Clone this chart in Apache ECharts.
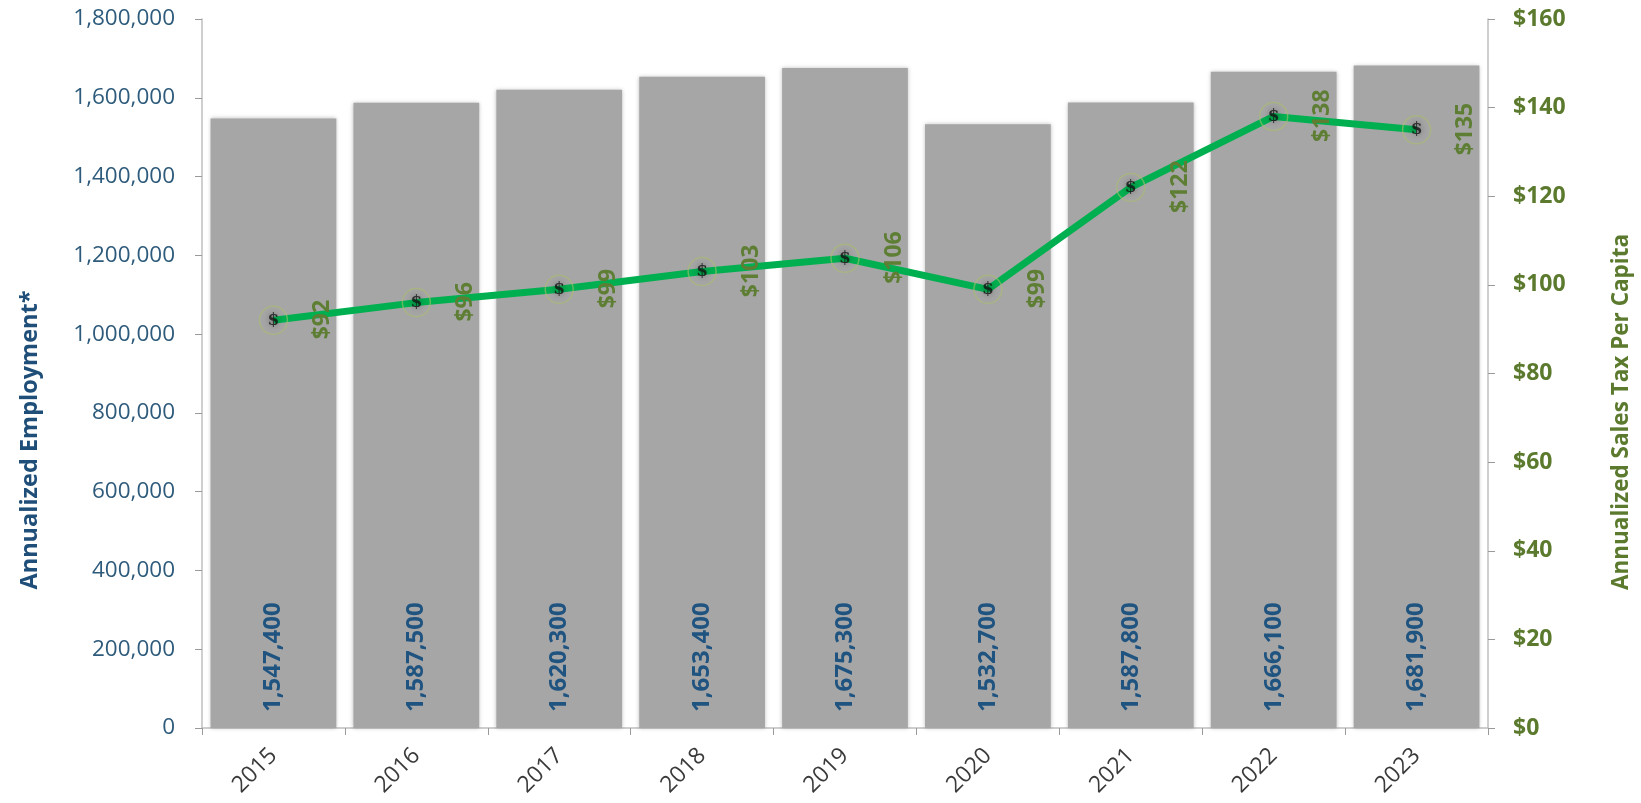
<!DOCTYPE html>
<html>
<head>
<meta charset="utf-8">
<script src="https://cdn.jsdelivr.net/npm/echarts@6/dist/echarts.min.js"></script>
<style>
html,body{margin:0;padding:0;background:#fff;}
#chart{width:1641px;height:803px;}
</style>
</head>
<body>
<div id="chart"></div>
<script>
const years = ['2015','2016','2017','2018','2019','2020','2021','2022','2023'];
const employment = [1547400, 1587500, 1620300, 1653400, 1675300, 1532700, 1587800, 1666100, 1681900];
const salesTaxPerCapita = [92, 96, 99, 103, 106, 99, 122, 138, 135];
const leftTicks = { min: 0, max: 1800000, interval: 200000 };
const rightTicks = { min: 0, max: 160, interval: 20 };

const FONT = '"Open Sans", "Noto Sans", sans-serif';
const chart = echarts.init(document.getElementById('chart'), null, {renderer: 'canvas'});
const axisGray = '#bfbfbf';

const option = {
  backgroundColor: '#ffffff',
  animation: false,
  grid: { left: 202, right: 153, top: 19, bottom: 75 },
  xAxis: {
    type: 'category',
    data: years,
    boundaryGap: true,
    axisLine: { show: true, lineStyle: { color: axisGray, width: 1.5 } },
    axisTick: { show: true, alignWithLabel: false, length: 7, lineStyle: { color: '#9a9a9a' } },
    axisLabel: { rotate: 45, margin: 24, color: '#3a3a3a', fontFamily: FONT, fontSize: 23 }
  },
  yAxis: [
    {
      type: 'value',
      min: leftTicks.min, max: leftTicks.max, interval: leftTicks.interval,
      splitLine: { show: false },
      axisLine: { show: true, lineStyle: { color: axisGray, width: 1.5 } },
      axisTick: { show: true, length: 7, lineStyle: { color: '#9a9a9a' } },
      axisLabel: {
        margin: 27, color: '#2e5b7b', fontFamily: FONT, fontSize: 22.5,
        formatter: v => v.toLocaleString('en-US')
      }
    },
    {
      type: 'value',
      position: 'right',
      min: rightTicks.min, max: rightTicks.max, interval: rightTicks.interval,
      splitLine: { show: false },
      axisLine: { show: true, lineStyle: { color: axisGray, width: 1.5 } },
      axisTick: { show: true, length: 7, lineStyle: { color: '#9a9a9a' } },
      axisLabel: {
        margin: 25, color: '#5b7a2e', fontFamily: FONT, fontSize: 23, fontWeight: 'bold',
        formatter: v => '$' + v
      }
    }
  ],
  graphic: [
    {
      type: 'text', x: 30, y: 440, rotation: Math.PI / 2,
      style: { text: 'Annualized Employment*', fill: '#1f4e79', font: 'bold 23.5px ' + FONT, align: 'center', verticalAlign: 'middle' }
    },
    {
      type: 'text', x: 1622, y: 412, rotation: Math.PI / 2,
      style: { text: 'Annualized Sales Tax Per Capita', fill: '#5b7a2e', font: 'bold 22.5px ' + FONT, align: 'center', verticalAlign: 'middle' }
    }
  ],
  series: [
    {
      name: 'Annualized Employment',
      type: 'bar',
      yAxisIndex: 0,
      data: employment,
      barCategoryGap: '12%',
      itemStyle: { color: '#a6a6a6', shadowBlur: 4, shadowColor: 'rgba(0,0,0,0.25)' },
      label: {
        show: true, position: 'insideBottom', distance: 16, rotate: 90,
        align: 'left', verticalAlign: 'middle',
        color: '#1f5380', fontFamily: FONT, fontWeight: 'bold', fontSize: 24,
        formatter: p => p.value.toLocaleString('en-US')
      },
      z: 1
    },
    {
      name: 'Annualized Sales Tax Per Capita',
      type: 'line',
      yAxisIndex: 1,
      data: salesTaxPerCapita,
      lineStyle: { color: '#00b050', width: 7 },
      symbol: 'circle',
      symbolSize: 28,
      itemStyle: { color: 'rgba(0,0,0,0)', borderColor: 'rgba(170,190,110,0.6)', borderWidth: 1.5 },
      label: {
        show: true, position: [64, 14], rotate: 90, align: 'center', verticalAlign: 'middle',
        color: '#5e7e34', fontFamily: FONT, fontWeight: 'bold', fontSize: 23,
        formatter: p => '$' + p.value
      },
      z: 3
    },
    {
      name: 'markers',
      type: 'scatter',
      yAxisIndex: 1,
      data: salesTaxPerCapita,
      symbol: 'circle',
      symbolSize: 1,
      itemStyle: { color: 'rgba(0,0,0,0)' },
      label: {
        show: true, position: 'inside', formatter: '$',
        color: '#111', fontFamily: '"DejaVu Serif", serif', fontWeight: 'bold', fontSize: 17,
        textShadowColor: 'rgba(0,0,0,0.45)', textShadowBlur: 7
      },
      silent: true,
      z: 4
    }
  ]
};
chart.setOption(option);
</script>
</body>
</html>
